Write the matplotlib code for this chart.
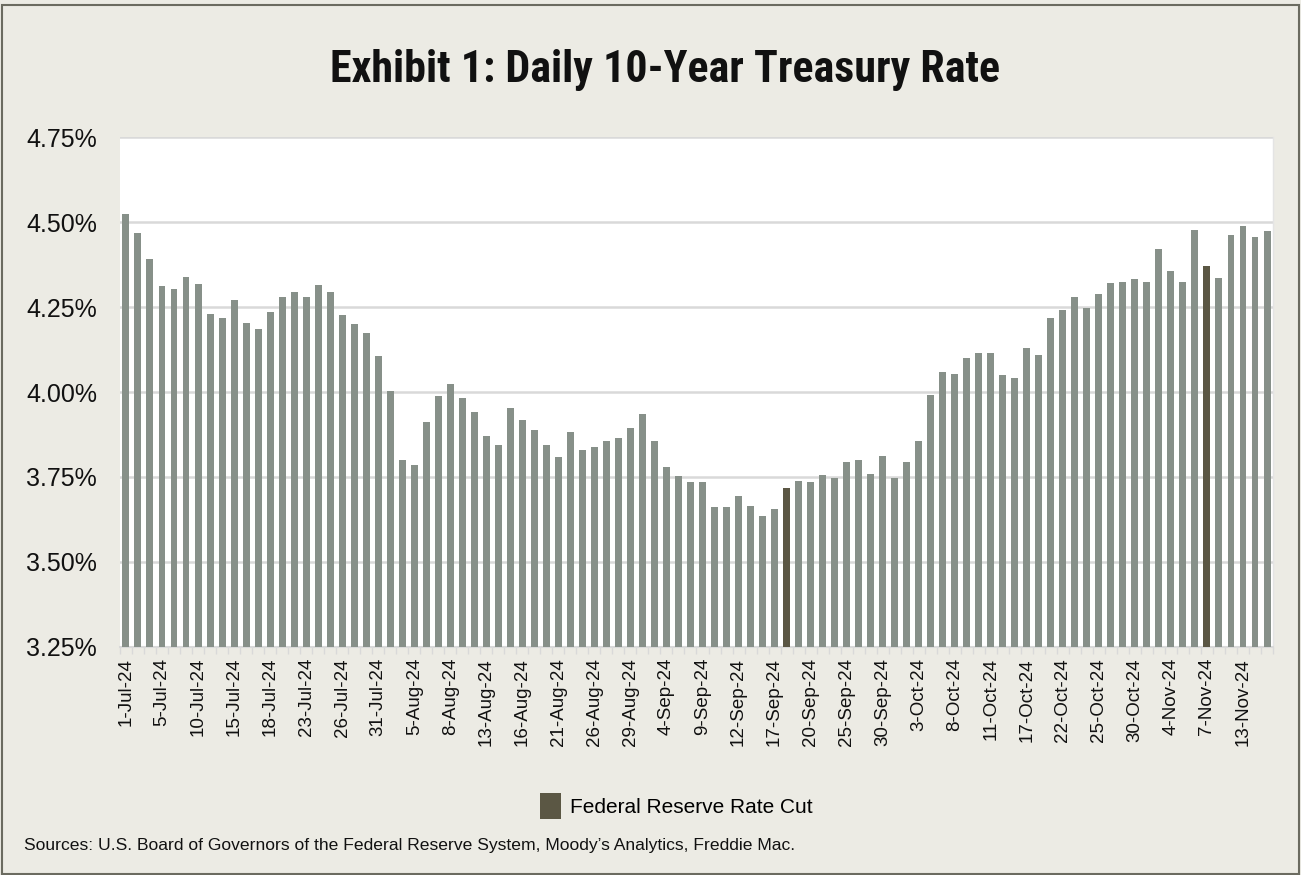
import matplotlib
matplotlib.use("Agg")
import matplotlib.pyplot as plt
from matplotlib import font_manager as fm
from matplotlib.patches import Patch, Rectangle
from matplotlib.ticker import FuncFormatter

# ---- data ----
jul_days = [1, 2, 3, 5, 8, 9, 10, 11, 12, 15, 16, 17, 18, 19, 22, 23, 24, 25, 26, 29, 30, 31]
aug_days = [1, 2, 5, 6, 7, 8, 9, 12, 13, 14, 15, 16, 19, 20, 21, 22, 23, 26, 27, 28, 29, 30]
sep_days = [3, 4, 5, 6, 9, 10, 11, 12, 13, 16, 17, 18, 19, 20, 23, 24, 25, 26, 27, 30]
oct_days = [1, 2, 3, 4, 7, 8, 9, 10, 11, 15, 16, 17, 18, 21, 22, 23, 24, 25, 28, 29, 30, 31]
nov_days = [1, 4, 5, 6, 7, 8, 12, 13, 14, 15]

dates = ([f"{d}-Jul-24" for d in jul_days] + [f"{d}-Aug-24" for d in aug_days] +
         [f"{d}-Sep-24" for d in sep_days] + [f"{d}-Oct-24" for d in oct_days] +
         [f"{d}-Nov-24" for d in nov_days])

rates = [4.523, 4.467, 4.390, 4.311, 4.302, 4.337, 4.317, 4.228, 4.217, 4.270,
         4.202, 4.184, 4.234, 4.278, 4.293, 4.278, 4.314, 4.293, 4.226, 4.199,
         4.175, 4.107, 4.002, 3.799, 3.784, 3.911, 3.987, 4.023, 3.982, 3.941,
         3.870, 3.843, 3.952, 3.919, 3.887, 3.843, 3.808, 3.881, 3.829, 3.837,
         3.855, 3.864, 3.893, 3.935, 3.855, 3.779, 3.752, 3.734, 3.734, 3.661,
         3.661, 3.693, 3.664, 3.635, 3.655, 3.717, 3.737, 3.734, 3.755, 3.746,
         3.793, 3.799, 3.758, 3.813, 3.746, 3.793, 3.855, 3.990, 4.058, 4.052,
         4.099, 4.114, 4.114, 4.049, 4.040, 4.128, 4.110, 4.219, 4.240, 4.278,
         4.246, 4.287, 4.320, 4.323, 4.331, 4.323, 4.420, 4.355, 4.323, 4.476,
         4.370, 4.334, 4.461, 4.487, 4.455, 4.473]

rate_cut_dates = ["18-Sep-24", "7-Nov-24"]
y_ticks = [3.25, 3.50, 3.75, 4.00, 4.25, 4.50, 4.75]

# ---- style ----
BG = "#ECEBE4"
BAR = "#879089"
CUT = "#5B5744"
GRID = "#D9D9D9"
FONT = ["Liberation Sans", "DejaVu Sans"]
plt.rcParams["font.family"] = FONT

# pick a condensed bold face for the title if one is installed
title_family = ["Liberation Sans", "DejaVu Sans"]
title_stretch = "normal"
title_size = 27
for f in fm.fontManager.ttflist:
    if f.name in ("Liberation Sans Narrow", "Roboto Condensed", "Open Sans Condensed"):
        title_family = [f.name, "DejaVu Sans"]
        title_size = 31.7
        break
else:
    for f in fm.fontManager.ttflist:
        if f.name == "DejaVu Sans" and f.stretch == "condensed" and f.weight in ("bold", 700):
            title_family = ["DejaVu Sans"]
            title_stretch = "condensed"
            title_size = 29
            break

fig = plt.figure(figsize=(13.01, 8.75), dpi=100, facecolor=BG)
ax = fig.add_axes([0.0922, 0.2606, 0.8863, 0.5828])
ax.set_facecolor("white")

x = list(range(len(dates)))
colors = [CUT if d in rate_cut_dates else BAR for d in dates]
ax.bar(x, rates, width=0.58, color=colors, zorder=3)

ax.set_ylim(3.25, 4.75)
ax.set_xlim(-0.5, len(dates) - 0.5)
ax.set_yticks(y_ticks)
ax.yaxis.set_major_formatter(FuncFormatter(lambda v, p: f"{v:.2f}%"))
ax.grid(axis="y", color=GRID, linewidth=1.8, zorder=1)
ax.tick_params(axis="y", length=0, pad=16.5, labelsize=18, labelcolor="#111111")

ax.set_xticks(x[::3])
ax.set_xticklabels(dates[::3], rotation=90, fontsize=13.5, color="#111111")
ax.set_xticks([i - 0.5 for i in range(len(dates) + 1)], minor=True)
ax.tick_params(axis="x", which="major", length=0, pad=8)
ax.tick_params(axis="x", which="minor", length=5, width=1, color=GRID)

for s in ["left", "top"]:
    ax.spines[s].set_visible(False)
ax.spines["bottom"].set_color(GRID)
ax.spines["bottom"].set_linewidth(1.5)
ax.spines["right"].set_color("#E4E4E4")
ax.spines["right"].set_linewidth(1.0)

fig.text(0.511, 0.92, "Exhibit 1: Daily 10-Year Treasury Rate",
         ha="center", va="center", fontsize=title_size, fontweight="bold",
         fontstretch=title_stretch, family=title_family, color="#111111")

fig.legend(handles=[Patch(facecolor=CUT)], labels=["Federal Reserve Rate Cut"],
           loc="center", bbox_to_anchor=(0.52, 0.079), frameon=False,
           handlelength=1.0, handleheight=1.5, handletextpad=0.45, fontsize=15)

fig.text(0.0185, 0.034,
         "Sources: U.S. Board of Governors of the Federal Reserve System, Moody\u2019s Analytics, Freddie Mac.",
         ha="left", va="center", fontsize=12.6, color="#111111")

fig.patches.append(Rectangle((0.0015, 0.0015), 0.997, 0.993, transform=fig.transFigure,
                             fill=False, edgecolor="#6B6B60", linewidth=1.5))

fig.savefig("out.png", dpi=100, facecolor=BG)
